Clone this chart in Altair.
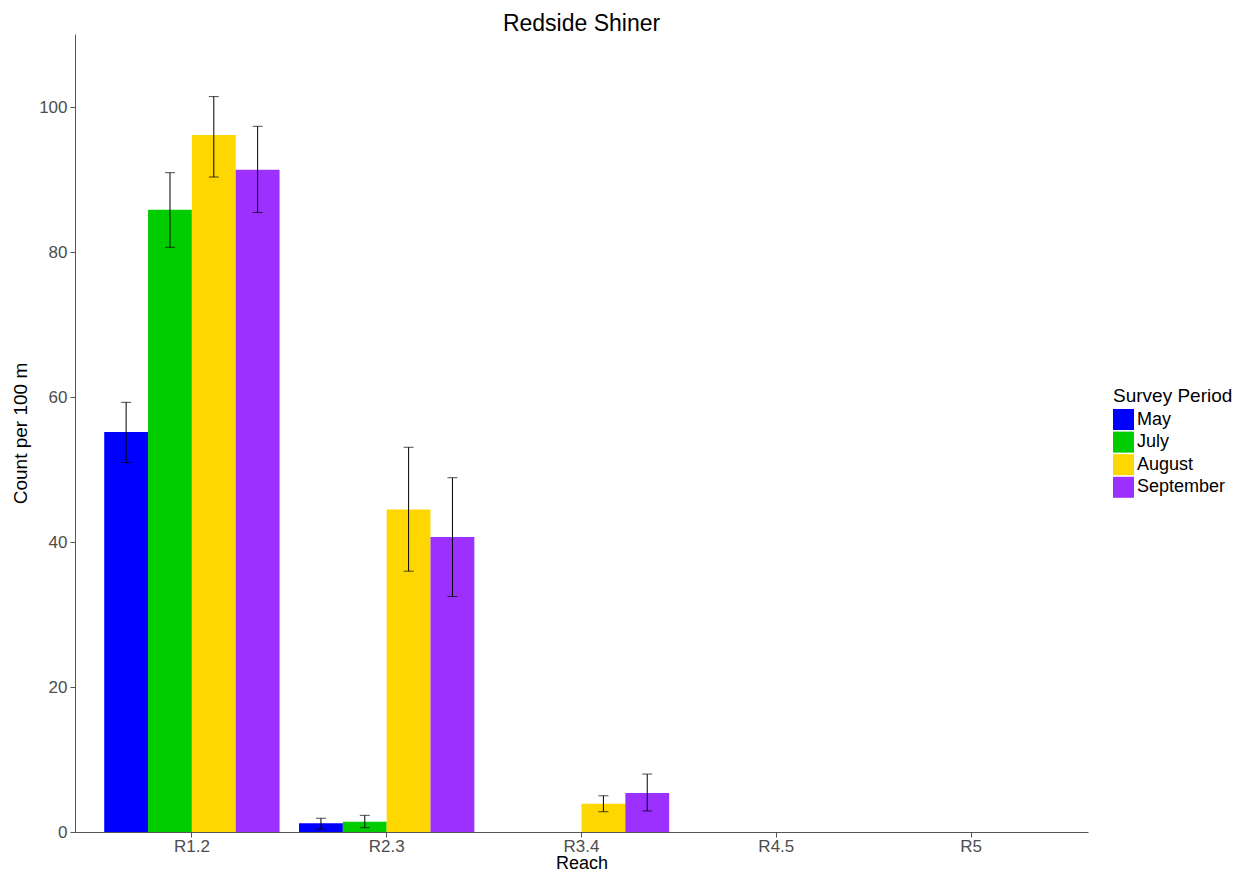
import altair as alt
import pandas as pd

reaches = ["R1.2", "R2.3", "R3.4", "R4.5", "R5"]
periods = ["May", "July", "August", "September"]
colors = ["#0000FF", "#00CC00", "#FFD700", "#9B30FF"]

may = [55.2, 1.2, 0, 0, 0]
july = [85.9, 1.4, 0, 0, 0]
august = [96.2, 44.5, 3.9, 0, 0]
september = [91.4, 40.7, 5.4, 0, 0]

may_lo = [51.0, 0.4, None, None, None]
may_hi = [59.3, 1.9, None, None, None]
july_lo = [80.7, 0.6, None, None, None]
july_hi = [91.0, 2.3, None, None, None]
august_lo = [90.4, 36.0, 2.8, None, None]
august_hi = [101.5, 53.1, 5.0, None, None]
september_lo = [85.5, 32.5, 2.9, None, None]
september_hi = [97.4, 48.9, 8.0, None, None]

series = {
    "May": (may, may_lo, may_hi),
    "July": (july, july_lo, july_hi),
    "August": (august, august_lo, august_hi),
    "September": (september, september_lo, september_hi),
}

rows = []
for p in periods:
    vals, lo, hi = series[p]
    for i, r in enumerate(reaches):
        rows.append({"Reach": r, "Period": p, "Count": vals[i], "lo": lo[i], "hi": hi[i]})
df = pd.DataFrame(rows)

FONT = "Liberation Sans"

x = alt.X("Reach:N", sort=reaches,
          scale=alt.Scale(paddingInner=0.1, paddingOuter=0.15),
          axis=alt.Axis(title="Reach", labelAngle=0, labelFontSize=17, labelColor="#4D4D4D",
                        titleFontSize=18, titleFontWeight="normal", titleColor="#000000",
                        tickSize=5, labelPadding=1, titlePadding=0, domainColor="#555555",
                        tickColor="#555555"))
xo = alt.XOffset("Period:N", sort=periods, scale=alt.Scale(paddingInner=0, paddingOuter=0))
y_scale = alt.Scale(domain=[0, 110.14], nice=False, zero=True)
y_axis = alt.Axis(title="Count per 100 m", values=[0, 20, 40, 60, 80, 100], grid=False,
                  labelFontSize=17, labelColor="#4D4D4D", titleFontSize=19,
                  titleFontWeight="normal", titleColor="#000000", tickSize=5, labelPadding=3,
                  titlePadding=8, domainColor="#555555", tickColor="#555555")

color = alt.Color("Period:N", sort=periods,
                  scale=alt.Scale(domain=periods, range=colors),
                  legend=alt.Legend(title="Survey Period", orient="none", legendX=1038, legendY=353,
                                    titleFontSize=19, titleFontWeight="normal", titleColor="#000000",
                                    labelFontSize=18, labelColor="#000000", symbolType="square",
                                    symbolSize=441, symbolStrokeWidth=0, symbolOpacity=1,
                                    rowPadding=1.6, titlePadding=3, labelOffset=3))

bars = alt.Chart(df).mark_bar(opacity=1).encode(
    x=x, xOffset=xo,
    y=alt.Y("Count:Q", scale=y_scale, axis=y_axis),
    color=color,
)

err = alt.Chart(df).transform_filter("isValid(datum.lo)")
rule = err.mark_rule(color="#000000", strokeWidth=1).encode(
    x=alt.X("Reach:N", sort=reaches), xOffset=xo,
    y=alt.Y("lo:Q", scale=y_scale), y2="hi:Q",
)
cap_lo = err.mark_tick(color="#000000", size=10, thickness=1).encode(
    x=alt.X("Reach:N", sort=reaches), xOffset=xo, y=alt.Y("lo:Q", scale=y_scale))
cap_hi = err.mark_tick(color="#000000", size=10, thickness=1).encode(
    x=alt.X("Reach:N", sort=reaches), xOffset=xo, y=alt.Y("hi:Q", scale=y_scale))

chart = alt.layer(bars, rule, cap_lo, cap_hi).properties(
    width=1013, height=798,
    title=alt.TitleParams("Redside Shiner", fontSize=23, fontWeight="normal", color="#000000",
                          anchor="middle", offset=-2, font=FONT),
    autosize=alt.AutoSizeParams(type="none"),
    padding={"left": 67, "top": 26, "right": 146, "bottom": 40},
).configure(font=FONT).configure_view(stroke=None).configure_axis(grid=False, labelFont=FONT, titleFont=FONT)

chart.save("out.html", embed_options={"renderer": "svg", "actions": False})
